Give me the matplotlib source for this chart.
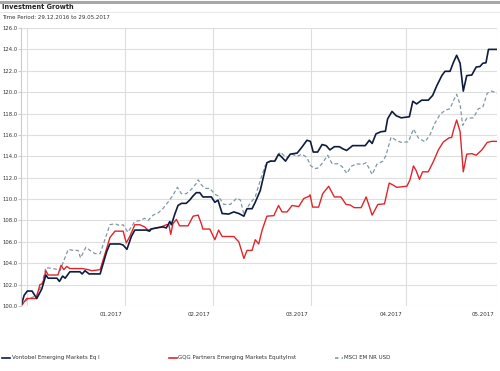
import numpy as np
import pandas as pd
import matplotlib
matplotlib.use("Agg")
import matplotlib.pyplot as plt
import matplotlib.transforms as mtransforms
from matplotlib.lines import Line2D

# day offsets from 29.12.2016 and indexed values (start = 100)
vontobel_days = [0, 1, 2, 3.5, 5, 6.6, 7.9, 8.6, 11.4, 12.2, 13.2, 14, 15.5, 18.7, 19.4, 20.3, 21.6, 25.1,
                 27.2, 28.2, 31.4, 32.4, 33.6, 35, 36.1, 39.7, 40.8, 41.3, 42.9, 45, 46.1, 47.2, 47.7, 48.8,
                 49.8, 50.9, 52.4, 53.5, 54.6, 55.6, 56.7, 57.7, 60.4, 61.5, 62.5, 63.8, 65.9, 67.5, 69.1,
                 70.7, 71.7, 73.3, 74.3, 75.9, 77, 78, 79.1, 80.5, 81.7, 82.8, 83.9, 85.4, 87.6, 89.1, 90.7,
                 91.8, 92.7, 94.1, 95.5, 96.8, 98, 99.4, 101, 102.1, 103.3, 105.2, 109.2, 110.5, 111.4,
                 112.6, 114.2, 115.6, 116.3, 117.7, 119, 120.6, 123.2, 124.3, 125.5, 127.1, 129.2, 130.6,
                 131.9, 133.5, 134.5, 136.1, 137.2, 138.2, 139.3, 140.3, 141.4, 143, 144.4, 145.6, 146.5,
                 147.5, 148.3, 151]
vontobel = [100.0, 101.0, 101.4, 101.4, 100.7, 101.6, 102.9, 102.6, 102.6, 102.3, 102.8, 102.6, 103.2,
            103.2, 103.0, 103.3, 103.0, 103.0, 105.1, 105.8, 105.8, 105.7, 105.3, 106.5, 107.1, 107.1,
            107.0, 107.2, 107.3, 107.4, 107.3, 107.9, 107.6, 108.6, 109.4, 109.6, 109.6, 109.9, 110.3,
            110.6, 110.6, 110.2, 110.2, 109.7, 109.9, 108.65, 108.6, 108.8, 108.65, 108.4, 109.1, 109.1,
            109.7, 110.8, 112.2, 113.4, 113.55, 113.55, 114.2, 113.9, 113.55, 114.2, 114.3, 114.85,
            115.5, 115.4, 114.4, 114.4, 115.1, 115.0, 114.6, 114.9, 114.9, 114.7, 114.55, 115.0, 115.0,
            115.5, 115.2, 116.1, 116.3, 116.35, 117.5, 118.2, 117.8, 117.6, 117.7, 119.15, 118.9, 119.25,
            119.25, 119.7, 120.6, 121.55, 121.95, 121.95, 122.8, 123.45, 122.7, 120.1, 121.55, 121.6,
            122.35, 122.4, 122.7, 122.75, 124.0, 124.0]

gqg_days = [0, 1.8, 4.8, 6, 6.9, 7.9, 8.6, 11.7, 12.7, 13.6, 14.5, 15.5, 19.4, 21.3, 22.4, 25.1, 27.2,
            28.2, 29.8, 32.4, 33.4, 34.5, 36.1, 37.7, 39.2, 40.3, 41.3, 44.5, 46.1, 46.9, 47.5, 48.2,
            49.3, 50.3, 53, 54.6, 56.2, 57.2, 57.7, 59.9, 61.5, 62.7, 63.8, 67.5, 69.1, 70.7, 71.7, 73.3,
            74.3, 75.4, 76.5, 78, 80.2, 81.7, 82.8, 84.4, 86, 88.1, 89.7, 91.3, 91.7, 92.5, 94.4, 95.7,
            97.6, 99.4, 101.5, 103.1, 104.4, 105.7, 107.9, 109.5, 111.4, 113.2, 115.3, 116.8, 118.1,
            119.2, 122.4, 123.4, 124.5, 125.3, 126.4, 127.4, 129.2, 130.8, 132.4, 134, 135.9, 136.6,
            137.2, 138.2, 139.3, 140.3, 141.4, 143, 144.4, 146.2, 147.9, 149.3, 151]
gqg = [100.0, 100.7, 100.7, 102.0, 102.1, 103.3, 102.9, 102.9, 103.8, 103.4, 103.7, 103.5, 103.5, 103.4,
       103.3, 103.4, 105.4, 106.4, 107.0, 107.0, 105.9, 106.5, 107.6, 107.6, 107.4, 107.1, 107.2, 107.4,
       107.6, 107.6, 106.7, 107.7, 108.1, 107.5, 107.5, 108.4, 108.5, 107.7, 107.2, 107.2, 106.2, 107.1,
       106.5, 106.5, 106.0, 104.45, 105.2, 105.2, 106.2, 105.8, 107.1, 108.4, 108.45, 109.4, 108.8,
       108.8, 109.4, 109.3, 110.05, 110.25, 110.4, 109.25, 109.25, 110.5, 111.2, 110.2, 110.2, 109.5,
       109.45, 109.2, 109.2, 110.2, 108.5, 109.5, 109.55, 111.5, 111.3, 111.1, 111.2, 111.8, 113.1,
       112.7, 111.85, 112.55, 112.55, 113.5, 114.6, 115.35, 115.75, 115.75, 116.45, 117.4, 116.3,
       112.55, 114.2, 114.25, 114.1, 114.6, 115.3, 115.4, 115.4]

msci_days = [0, 2, 5, 6.6, 7.9, 10.2, 11.7, 12.4, 13.4, 15, 16.6, 18.1, 18.9, 20.6, 21.9, 23.5, 25.1,
             26.6, 28.2, 29.8, 31.4, 32.4, 33.9, 36.1, 37.7, 39.2, 40.3, 41.9, 43.5, 45, 46.6, 48.2,
             49.6, 50.9, 52.4, 54, 55.6, 56.2, 57.2, 58.3, 59.9, 61.5, 62.5, 64.3, 66.4, 68.5, 69.6,
             70.7, 72.2, 74.3, 75.9, 77.5, 79.1, 80.7, 82.3, 83.3, 84.4, 86, 87.6, 89.1, 90.7, 91.8,
             93.1, 94.2, 95.7, 97.3, 98.7, 100.5, 101.8, 103.4, 104.7, 106.3, 108.4, 109.5, 111.4,
             112.9, 114.8, 115.8, 117.4, 119, 120.6, 122.9, 124.5, 126.1, 128.2, 129.8, 131.3, 132.9,
             134.5, 136.1, 137, 138.2, 139.3, 140.1, 141.4, 143.5, 145.1, 146.5, 147.9, 149.3, 151]
msci = [100.0, 100.6, 101.0, 102.0, 103.6, 103.5, 103.4, 103.3, 104.1, 105.3, 105.2, 105.2, 104.5, 105.5,
        105.2, 104.9, 104.9, 106.2, 107.6, 107.7, 107.5, 107.6, 106.9, 107.9, 108.0, 108.2, 108.0, 108.5,
        108.7, 109.1, 109.7, 110.35, 111.1, 110.5, 110.5, 110.9, 111.45, 111.8, 111.35, 111.0, 111.0,
        110.45, 110.3, 109.5, 109.5, 110.1, 109.9, 108.6, 109.4, 110.2, 111.75, 113.15, 113.55, 113.6,
        114.4, 114.1, 113.9, 114.2, 114.0, 114.2, 113.9, 113.15, 112.85, 112.9, 113.4, 114.1, 113.3,
        113.3, 113.05, 112.4, 113.05, 113.3, 113.25, 113.4, 112.3, 113.25, 113.55, 114.1, 115.8, 115.5,
        115.3, 115.35, 116.55, 115.7, 115.35, 116.05, 117.1, 117.9, 118.3, 118.45, 119.1, 119.8, 118.85,
        116.9, 117.55, 117.6, 118.45, 118.6, 119.9, 120.1, 119.9]

names = ["Vontobel Emerging Markets Eq I", "GQG Partners Emerging Markets EquityInst", "MSCI EM NR USD"]
colors = ["#0f1c3f", "#e0262b", "#7f98a3"]
month_ends = ["2016-12-31", "2017-01-31", "2017-02-28", "2017-03-31", "2017-04-30", "2017-05-29"]
month_labels = ["", "01.2017", "02.2017", "03.2017", "04.2017", "05.2017"]

start = pd.Timestamp("2016-12-29")
end = pd.Timestamp("2017-05-29")


def to_dates(days):
    return start + pd.to_timedelta(np.array(days), unit="D")


fig = plt.figure(figsize=(5, 3.71), dpi=100)
ax = fig.add_axes([0.042, 0.1752, 0.952, 0.7493])

ax.plot(to_dates(msci_days), msci, color=colors[2], lw=0.9, ls=(0, (3, 2)))
ax.plot(to_dates(gqg_days), gqg, color=colors[1], lw=1.0)
ax.plot(to_dates(vontobel_days), vontobel, color=colors[0], lw=1.2)

ax.set_xlim(start, end)
ax.set_ylim(100, 126)
ax.set_yticks(np.arange(100, 127, 2))
ax.set_yticklabels(["%.1f" % v for v in np.arange(100, 127, 2)])
ax.set_xticks(pd.to_datetime(month_ends))
ax.set_xticklabels(month_labels)
ax.grid(True, color="#dedede", lw=0.8)
ax.tick_params(axis="x", length=0, labelsize=4.0, colors="#333333", pad=4)
ax.tick_params(axis="y", length=2.2, color="#cccccc", labelsize=3.8, colors="#333333", pad=0.6)
offset = mtransforms.ScaledTranslation(-0.03, 0, fig.dpi_scale_trans)
for lab in ax.get_xticklabels():
    lab.set_horizontalalignment("right")
    lab.set_transform(lab.get_transform() + offset)
for side in ["top", "right", "bottom"]:
    ax.spines[side].set_visible(False)
ax.spines["left"].set_color("#cccccc")
ax.spines["left"].set_linewidth(0.8)

# header
fig.add_artist(Line2D([0, 1], [0.995, 0.995], color="#a8a8a8", lw=2.2, transform=fig.transFigure))
fig.add_artist(Line2D([0, 1], [0.968, 0.968], color="#e4e4e4", lw=0.6, transform=fig.transFigure))
fig.text(0.004, 0.981, "Investment Growth", fontsize=4.8, fontweight="bold", va="center", color="#222222")
fig.text(0.004, 0.953, "Time Period: 29.12.2016 to 29.05.2017", fontsize=4.0, va="center", color="#333333")

# legend
styles = ["-", "-", (0, (2, 2))]
for i in range(3):
    x0 = 0.004 + i * 0.333
    fig.add_artist(Line2D([x0, x0 + 0.016], [0.036, 0.036], color=colors[i], lw=1.2, ls=styles[i],
                          transform=fig.transFigure))
    fig.text(x0 + 0.019, 0.036, names[i], fontsize=4.0, va="center", color="#333333")

fig.savefig("out.png", dpi=100)
